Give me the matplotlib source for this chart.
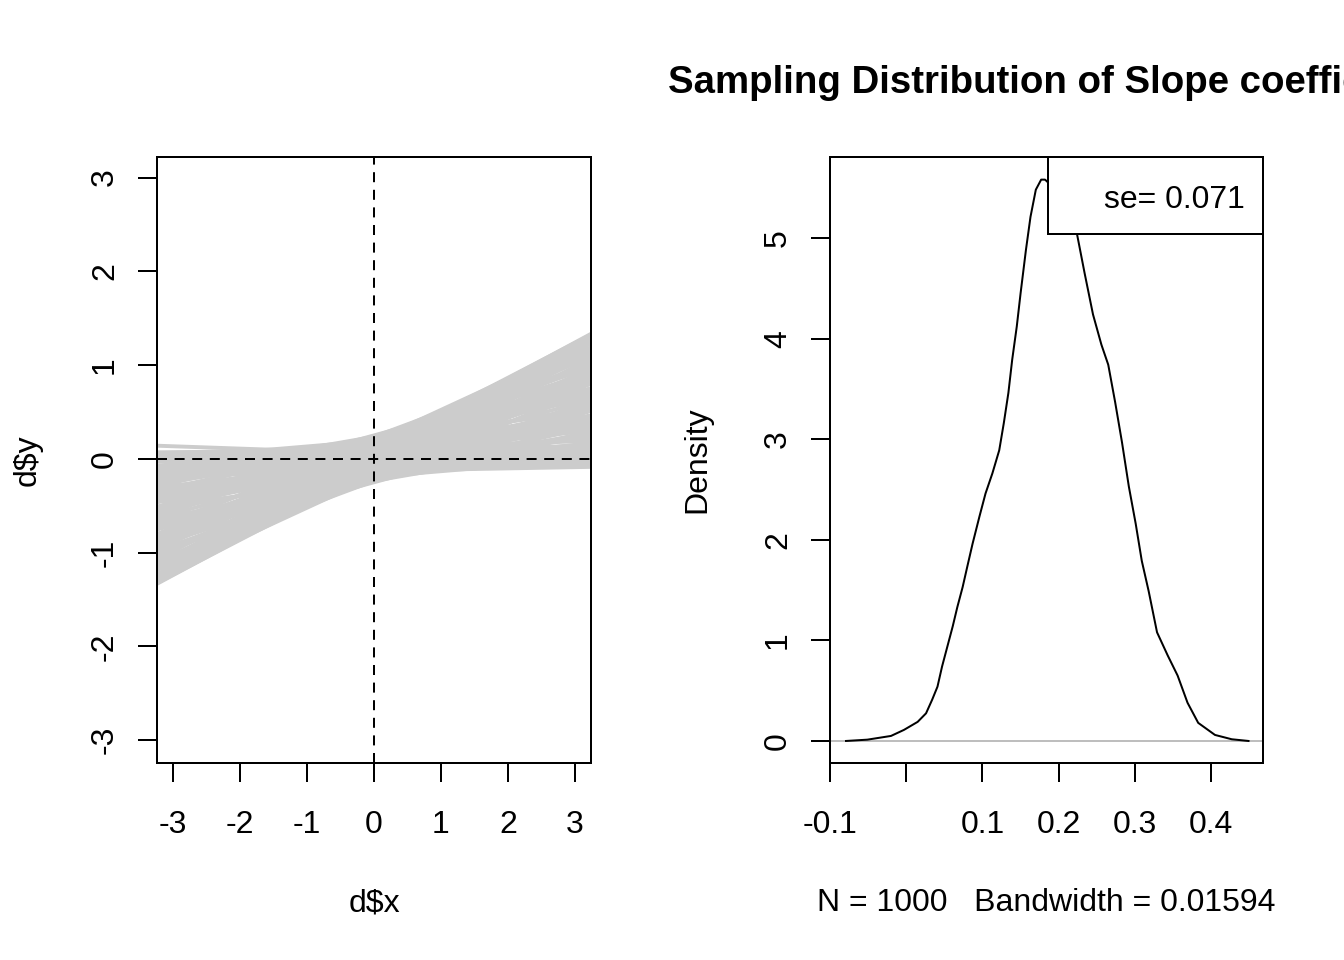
import matplotlib
matplotlib.use("Agg")
import matplotlib.pyplot as plt
from matplotlib.patches import Rectangle

plt.rcParams['font.family'] = ['Liberation Sans', 'DejaVu Sans']

# fitted regression lines (intercept, slope)
intercepts = [0.250, 0.235, 0.192, 0.125, 0.086, 0.043, -0.043, -0.086, -0.125, -0.192, -0.235,
              -0.250, -0.235, -0.192, -0.125, -0.086, -0.043, 0.043, 0.086, 0.125, 0.192, 0.235,
              0.229, 0.201, 0.150, 0.080, 0.000, -0.080, -0.150, -0.201, -0.229,
              -0.229, -0.201, -0.150, -0.080, 0.000, 0.080, 0.150, 0.201, 0.229,
              0.205, 0.150, 0.055, -0.055, -0.150, -0.205, -0.205, -0.150, -0.055, 0.055, 0.150, 0.205,
              0.175, 0.152, 0.088, 0.000, -0.088, -0.152, -0.175, -0.152, -0.088, 0.000, 0.088, 0.152,
              0.169, 0.124, 0.045, -0.045, -0.124, -0.169, -0.169, -0.124, -0.045, 0.045, 0.124, 0.169,
              0.133, 0.097, 0.036, -0.036, -0.097, -0.133, -0.133, -0.097, -0.036, 0.036, 0.097, 0.133,
              0.100, 0.071, 0.000, -0.071, -0.100, -0.071, 0.000, 0.071,
              0.063, 0.031, -0.031, -0.063, -0.031, 0.031, 0.000,
              0.059, -0.128]
slopes = [0.195, 0.267, 0.330, 0.370, 0.385, 0.394, 0.394, 0.385, 0.370, 0.330, 0.267,
          0.195, 0.123, 0.060, 0.020, 0.005, -0.004, -0.004, 0.005, 0.020, 0.060, 0.123,
          0.229, 0.293, 0.345, 0.372, 0.382, 0.372, 0.345, 0.293, 0.229,
          0.161, 0.097, 0.045, 0.018, 0.008, 0.018, 0.045, 0.097, 0.161,
          0.241, 0.321, 0.367, 0.367, 0.321, 0.241, 0.149, 0.069, 0.023, 0.023, 0.069, 0.149,
          0.195, 0.269, 0.322, 0.342, 0.322, 0.269, 0.195, 0.122, 0.068, 0.048, 0.068, 0.122,
          0.233, 0.299, 0.337, 0.337, 0.299, 0.233, 0.157, 0.091, 0.053, 0.053, 0.091, 0.157,
          0.225, 0.277, 0.307, 0.307, 0.277, 0.225, 0.165, 0.113, 0.083, 0.083, 0.113, 0.165,
          0.195, 0.254, 0.279, 0.254, 0.195, 0.136, 0.111, 0.136,
          0.195, 0.240, 0.240, 0.195, 0.150, 0.150, 0.195,
          -0.025, 0.013]

# kernel density of the 1000 slope estimates
dens_x = [-0.079, -0.051, -0.020, -0.003, 0.015, 0.026, 0.034, 0.041, 0.047, 0.054,
          0.061, 0.067, 0.074, 0.080, 0.087, 0.096, 0.104, 0.113, 0.122, 0.128,
          0.134, 0.139, 0.145, 0.150, 0.157, 0.163, 0.170, 0.177, 0.182, 0.185,
          0.195, 0.205, 0.215, 0.224, 0.234, 0.245, 0.256, 0.265, 0.274, 0.283,
          0.292, 0.301, 0.309, 0.318, 0.329, 0.343, 0.356, 0.369, 0.383, 0.405,
          0.427, 0.449]
dens_y = [0.000, 0.013, 0.050, 0.110, 0.190, 0.275, 0.410, 0.540, 0.740, 0.940,
          1.140, 1.330, 1.530, 1.730, 1.960, 2.230, 2.460, 2.660, 2.890, 3.160,
          3.460, 3.790, 4.120, 4.450, 4.880, 5.210, 5.480, 5.580, 5.580, 5.560,
          5.450, 5.300, 5.180, 5.040, 4.650, 4.240, 3.940, 3.740, 3.370, 2.970,
          2.530, 2.160, 1.790, 1.490, 1.080, 0.850, 0.650, 0.380, 0.180, 0.060,
          0.017, 0.000]

left_ticks = [-3, -2, -1, 0, 1, 2, 3]
dens_xticks = [-0.1, 0.0, 0.1, 0.2, 0.3, 0.4]
dens_xlabels = ['-0.1', '', '0.1', '0.2', '0.3', '0.4']
dens_yticks = [0, 1, 2, 3, 4, 5]
se_text = 'se= 0.071'

W, H = 1344, 960
fig = plt.figure(figsize=(W / 100, H / 100), dpi=100)
FS = 23
LW = 1.44


def style(ax):
    for s in ax.spines.values():
        s.set_linewidth(LW)
    ax.tick_params(length=13.7, width=LW, labelsize=FS, direction='out')
    ax.tick_params(axis='x', pad=20)
    ax.tick_params(axis='y', pad=13)


# left panel: regression lines
ax1 = fig.add_axes([157 / W, 1 - 763 / H, 434 / W, 606 / H])
for a, b in zip(intercepts, slopes):
    ax1.plot([-4, 4], [a - 4 * b, a + 4 * b], color='#CCCCCC', lw=2.8, solid_capstyle='butt')
ax1.axhline(0, color='black', lw=LW, dashes=(5, 3.8))
ax1.axvline(0, color='black', lw=LW, dashes=(5, 3.8))
ax1.set_xlim(-3.24, 3.24)
ax1.set_ylim(-3.245, 3.22)
ax1.set_xticks(left_ticks)
ax1.set_xticklabels([str(t) for t in left_ticks])
ax1.set_yticks(left_ticks)
ax1.set_yticklabels([str(t) for t in left_ticks], rotation=90, va='center')
style(ax1)

# right panel: density
ax2 = fig.add_axes([830 / W, 1 - 763 / H, 433 / W, 606 / H])
ax2.axhline(0, color='#BEBEBE', lw=LW)
ax2.plot(dens_x, dens_y, color='black', lw=LW, solid_joinstyle='round')
ax2.set_xlim(-0.100, 0.468)
ax2.set_ylim(-0.219, 5.805)
ax2.set_xticks(dens_xticks)
ax2.set_xticklabels(dens_xlabels)
ax2.set_yticks(dens_yticks)
ax2.set_yticklabels([str(t) for t in dens_yticks], rotation=90, va='center')
style(ax2)

# legend box
ax2.add_patch(Rectangle((0.5035, 0.873), 0.4965, 0.127, transform=ax2.transAxes,
                        facecolor='white', edgecolor='black', lw=LW, zorder=5, clip_on=False))
ax2.text(0.959, 0.929, se_text, transform=ax2.transAxes, ha='right', va='center',
         fontsize=FS, zorder=6)

# axis labels and title
fig.text(374 / W, 1 - 903 / H, 'd$x', ha='center', va='center', fontsize=FS)
fig.text(28 / W, 1 - 460 / H, 'd$y', ha='center', va='center', fontsize=FS, rotation=90)
fig.text(697 / W, 1 - 460 / H, 'Density', ha='center', va='center', fontsize=FS, rotation=90)
fig.text(1046 / W, 1 - 903 / H, 'N = 1000   Bandwidth = 0.01594', ha='center', va='center',
         fontsize=FS)
fig.text(1049.5 / W, 1 - 83 / H, 'Sampling Distribution of Slope coefficient', ha='center',
         va='center', fontsize=27.6, fontweight='bold')

fig.savefig('out.png', dpi=100)
